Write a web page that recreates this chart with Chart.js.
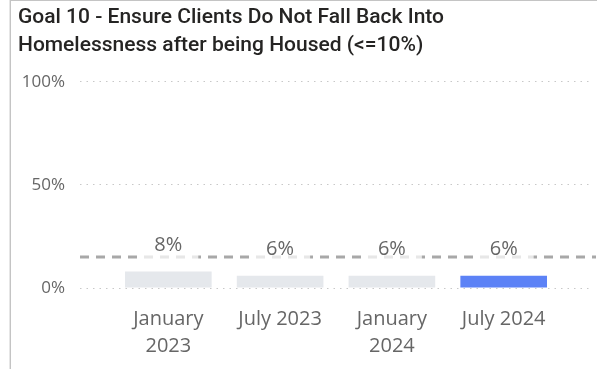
<!DOCTYPE html>
<html>
<head>
<meta charset="utf-8">
<script src="https://cdn.jsdelivr.net/npm/chart.js@4.4.1/dist/chart.umd.min.js"></script>
<style>
  html, body { margin: 0; padding: 0; background: #ffffff; }
  #wrap { position: relative; width: 597px; height: 369px; overflow: hidden; }
  #frame {
    position: absolute; left: 10px; top: 0; width: 600px; height: 380px;
    border-top: 1px solid #c4c4c4; border-left: 1px solid #c4c4c4;
    box-shadow: -1px 0 0 #e6e6e6; pointer-events: none;
  }
  canvas { position: absolute; left: 0; top: 0; }
</style>
</head>
<body>
<div id="wrap">
  <canvas id="chart" width="597" height="369"></canvas>
  <div id="frame"></div>
</div>
<script>
// Chart content
const titleLines = ['Goal 10 - Ensure Clients Do Not Fall Back Into', 'Homelessness after being Housed (<=10%)'];
const periods = [['January', '2023'], 'July 2023', ['January', '2024'], 'July 2024'];
const rates = [8, 6, 6, 6];
const targetRate = 15;
const yTicks = [0, 50, 100];
const barColors = ['#E5E8EC', '#E5E8EC', '#E5E8EC', '#5C82F6'];

const textGrey = '#666666';

// Dashed target line and value labels drawn over the bars
const overlayPlugin = {
  id: 'overlay',
  afterDatasetsDraw(chart) {
    const { ctx, chartArea, scales } = chart;
    const y = scales.y.getPixelForValue(targetRate);
    ctx.save();
    ctx.strokeStyle = '#A8A8A8';
    ctx.lineWidth = 3;
    ctx.setLineDash([9, 7]);
    ctx.beginPath();
    ctx.moveTo(chartArea.left, y);
    ctx.lineTo(chartArea.right + 4, y);
    ctx.stroke();
    ctx.setLineDash([]);

    const meta = chart.getDatasetMeta(0);
    ctx.font = '20px "Open Sans"';
    ctx.textAlign = 'center';
    ctx.textBaseline = 'middle';
    meta.data.forEach((bar, i) => {
      const label = rates[i] + '%';
      const cy = bar.y - 26;
      const w = ctx.measureText(label).width + 32;
      ctx.fillStyle = 'rgba(255,255,255,0.72)';
      ctx.fillRect(bar.x - w / 2, cy - 15, w, 30);
      ctx.fillStyle = textGrey;
      ctx.fillText(label, bar.x, cy);
    });
    ctx.restore();
  }
};

new Chart(document.getElementById('chart'), {
  type: 'bar',
  data: {
    datasets: [{
      data: rates.map((v, i) => ({ x: i, y: v })),
      backgroundColor: barColors,
      borderWidth: 0,
      categoryPercentage: 1,
      barPercentage: 0.775
    }]
  },
  options: {
    responsive: false,
    animation: false,
    layout: { padding: { left: 18, right: 5, top: 4, bottom: 0 } },
    plugins: {
      legend: { display: false },
      tooltip: { enabled: false },
      title: {
        display: true,
        text: titleLines,
        align: 'start',
        color: '#252423',
        font: { family: 'Roboto', size: 21, weight: '500', lineHeight: 1.33 },
        padding: { top: 0, bottom: 22 }
      }
    },
    scales: {
      x: {
        type: 'linear',
        offset: false,
        min: -0.79,
        max: 3.79,
        grid: { display: false, drawTicks: false },
        border: { display: false },
        afterBuildTicks(scale) {
          scale.ticks = periods.map((_, i) => ({ value: i }));
        },
        afterFit(scale) { scale.height = 81; },
        ticks: {
          autoSkip: false,
          maxRotation: 0,
          padding: 18,
          color: textGrey,
          font: { family: 'Open Sans', size: 20, lineHeight: 1.35 },
          callback: (v) => periods[v]
        }
      },
      y: {
        min: 0,
        max: 100,
        afterBuildTicks(scale) {
          scale.ticks = yTicks.map(v => ({ value: v }));
        },
        afterFit(scale) { scale.width = 62; },
        grid: {
          drawTicks: false,
          color: '#C8C8C8',
          lineWidth: 1
        },
        border: { display: false, dash: [1.5, 5] },
        ticks: {
          padding: 15,
          color: textGrey,
          font: { family: 'Open Sans', size: 17 },
          callback: (v) => v + '%'
        }
      }
    }
  },
  plugins: [overlayPlugin]
});
</script>
</body>
</html>
